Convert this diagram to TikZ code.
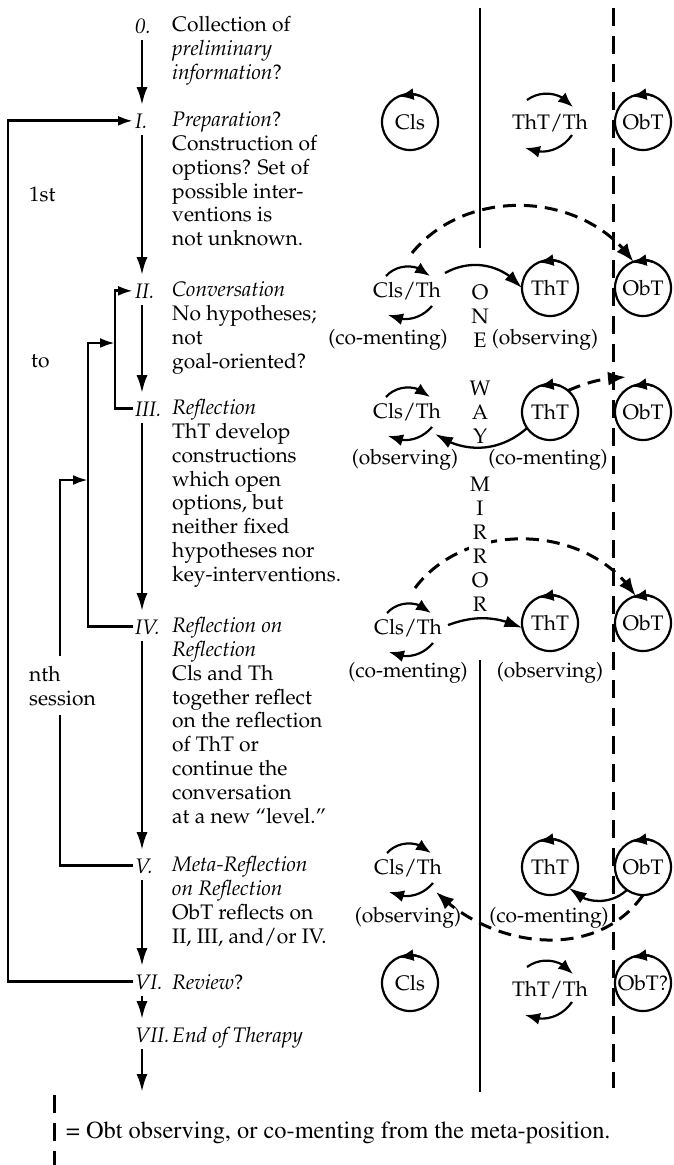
\documentclass[tikz,border=0pt]{standalone}
\usepackage[T1]{fontenc}
\usepackage{mathpazo}
\usepackage{tikz}
\usetikzlibrary{arrows.meta,bending}

\begin{document}
\begin{tikzpicture}[x=1pt, y=1pt,
	every node/.style={font=\fontsize{21}{23.8}\selectfont, inner sep=0pt},
	num/.style={anchor=base west, inner sep=2pt, font=\fontsize{21}{23.8}\selectfont\itshape},
	stage/.style={anchor=north west, align=left, yshift=16.66pt, execute at begin node=\strut},
	flow/.style={-{Latex[length=18pt,width=11pt]}, line width=2.8pt, shorten <=5pt, shorten >=6pt},
	back/.style={-{Latex[length=15pt,width=10pt]}, line width=2.8pt},
	agent/.style={circle, draw, line width=2.2pt, minimum size=56pt, outer sep=0pt},
	turn/.style={-{Latex[length=15pt,width=12pt]}, line width=2.2pt},
	pass/.style={-{Latex[length=18pt,width=12pt]}, line width=2.3pt},
	meta/.style={-{Latex[length=18pt,width=14pt]}, line width=3pt, dash pattern=on 13pt off 8pt},
	wall/.style={line width=3pt, dash pattern=on 18pt off 10pt},
	mirror/.style={line width=1.4pt},
	glass/.style={align=center, fill=white, inner sep=1pt, font=\fontsize{21}{24}\selectfont}
]
\useasboundingbox (0,0) rectangle (674,-1165);

\node[num] (s0) at (133,-33) {0.};
\node[stage] (t0) at (172,-33) {Collection of\\\textit{preliminary}\\\textit{information}?};
\node[num] (s1) at (133,-128) {I.};
\node[stage] (t1) at (172,-128) {\textit{Preparation}?\\Construction of\\options? Set of\\possible inter-\\ventions is\\not unknown.};
\node[num] (s2) at (133,-298) {II.};
\node[stage] (t2) at (172,-298) {\textit{Conversation}\\No hypotheses;\\not\\goal-oriented?};
\node[num] (s3) at (133,-416) {III.};
\node[stage] (t3) at (172,-416) {\textit{Reflection}\\ThT develop\\constructions\\which open\\options, but\\neither fixed\\hypotheses nor\\key-interventions.};
\node[num] (s4) at (133,-634) {IV.};
\node[stage] (t4) at (172,-634) {\textit{Reflection on}\\\textit{Reflection}\\Cls and Th\\together reflect\\on the reflection\\of ThT or\\continue the\\conversation\\at a new ``level.''};
\node[num] (s5) at (133,-873) {V.};
\node[stage] (t5) at (172,-873) {\textit{Meta-Reflection}\\\textit{on Reflection}\\ObT reflects on\\II, III, and/or IV.};
\node[num] (s6) at (133,-989) {VI.};
\node[stage] (t6) at (172,-989) {\textit{Review}?};
\node[num] (s7) at (133,-1042) {VII.};
\node[stage] (t7) at (172,-1042) {\textit{End of Therapy}};

\coordinate (spine) at (142,0);
\coordinate (fin) at (142,-1092);
\coordinate (jb) at (115,-343);
\coordinate (jc) at (88,-480);
\foreach \a/\b in {s0/s1,s1/s2,s2/s3,s3/s4,s4/s5,s5/s6,s6/s7}
	\draw[flow] (\a.south -| spine) -- (\b.north -| spine);
\draw[flow, shorten >=0pt] (s7.south -| spine) -- (fin);

\draw[back] (s3.west) -- ++(-18,0) |- (s2.west);
\draw[back] (s4.west) -- ++(-45,0) |- (jb);
\draw[back] (s5.west) -- ++(-73,0) |- (jc);
\draw[back] (s6.west) -- ++(-125,0) |- (s1.west);

\node[anchor=base west] (first) at (29,-201) {1st};
\node[anchor=base west] (upto) at (31,-367) {to};
\node[anchor=base west, align=left, fill=white, inner xsep=2pt, inner ysep=10pt] (nth) at (27,-705) {nth\\session};

\draw[mirror] (480,-8) -- (480,-248);
\draw[mirror] (480,-660) -- (480,-1092);
\draw[wall] (613,-8) -- (613,-1088);

\node[agent] (cls1) at (410,-122) {Cls};
\node (swap1) at (550,-123) {ThT/Th};
\node[agent] (obt1) at (643,-122) {ObT};

\node (ct2) at (407,-291) {Cls/Th};
\node[agent] (tht2) at (550,-288) {ThT};
\node[agent] (obt2) at (643,-288) {ObT};
\node (lab2a) at (388,-340) {(co-menting)};
\node (lab2b) at (545,-340) {(observing)};

\node (ct3) at (407,-412) {Cls/Th};
\node[agent] (tht3) at (550,-412) {ThT};
\node[agent] (obt3) at (643,-412) {ObT};
\node (lab3a) at (405,-460) {(observing)};
\node (lab3b) at (548,-460) {(co-menting)};

\node (ct4) at (408,-628) {Cls/Th};
\node[agent] (tht4) at (550,-623) {ThT};
\node[agent] (obt4) at (643,-623) {ObT};
\node (lab4a) at (408,-673) {(co-menting)};
\node (lab4b) at (550,-673) {(observing)};

\node (ct5) at (408,-868) {Cls/Th};
\node[agent] (tht5) at (550,-867) {ThT};
\node[agent] (obt5) at (643,-867) {ObT};
\node (lab5a) at (408,-918) {(observing)};
\node (lab5b) at (549,-918) {(co-menting)};

\node[agent] (cls6) at (410,-983) {Cls};
\node (swap6) at (550,-990) {ThT/Th};
\node[agent] (obt6) at (643,-983) {ObT?};

\foreach \c in {cls1,obt1,tht2,obt2,tht3,obt3,tht4,obt4,tht5,obt5,cls6,obt6}
	\draw[turn] (\c.68) arc[start angle=68, end angle=114, radius=28];
\foreach \t in {swap1,swap6} {
	\draw[turn] ([shift={(-23,23)}]\t.center) to[bend left=45] ([shift={(23,16)}]\t.center);
	\draw[turn] ([shift={(22,-12)}]\t.center) to[bend left=40] ([shift={(-25,-25)}]\t.center);
}
\foreach \t in {ct2,ct3,ct4,ct5} {
	\draw[turn] ([shift={(-21,15)}]\t.center) to[bend left=48] ([shift={(23,15)}]\t.center);
	\draw[turn] ([shift={(25,-15)}]\t.center) to[bend left=38] ([shift={(-19,-24)}]\t.center);
}

\draw[pass] ([shift={(38,18)}]ct2.center) to[bend left=40] (tht2.west);
\draw[pass] (tht3.215) to[bend left=38] ([shift={(28,-22)}]ct3.center);
\draw[pass] ([shift={(40,3)}]ct4.center) to[bend left=22] (tht4.190);
\draw[pass] (obt5.235) to[bend left=45] (tht5.312);

\draw[meta] ([shift={(5,38)}]ct2.center) to[bend left=53] (obt2.110);
\draw[meta] (tht3.50) to[bend left=10] ([shift={(-17,35)}]obt3.center);
\draw[meta] ([shift={(7,40)}]ct4.center) to[bend left=55] (obt4.105);
\draw[meta] (obt5.270) to[out=235, in=-45] ([shift={(28,-24)}]ct5.center);

\node[glass] (one) at (480,-316) {O\\N\\E};
\node[glass] (way) at (480,-412) {W\\A\\Y};
\node[glass] (mir) at (480,-544) {M\\I\\R\\R\\O\\R};

\draw[wall] (54,-1095) -- (54,-1168);
\node[anchor=base west, font=\fontsize{24.4}{28}\fontfamily{ptm}\selectfont] (key) at (66,-1138) {= Obt observing, or co-menting from the meta-position.};
\end{tikzpicture}
\end{document}
